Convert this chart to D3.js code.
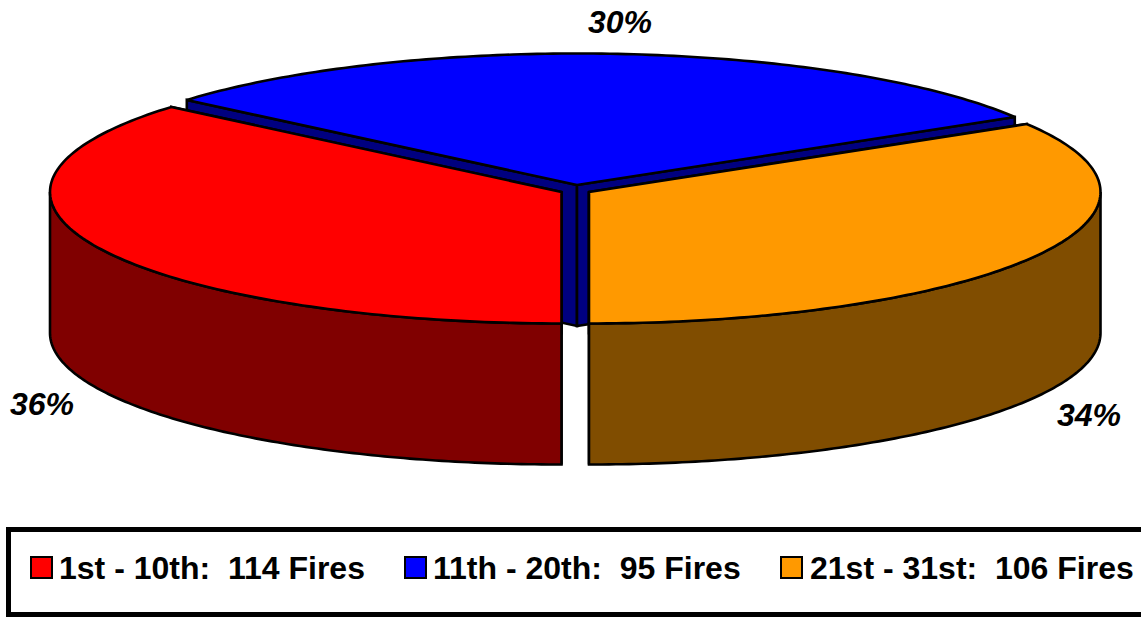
<!DOCTYPE html>
<html>
<head>
<meta charset="utf-8">
<script src="https://cdn.jsdelivr.net/npm/d3@7"></script>
<style>html,body{margin:0;padding:0;background:#fff;overflow:hidden}svg{display:block}</style>
</head>
<body>
<svg id="c" width="1141" height="621"></svg>
<script>
const categories = ["1st - 10th", "11th - 20th", "21st - 31st"];
const fires = [114, 95, 106];
const topColors = ["#FF0000", "#0000FF", "#FF9900"];
const sideColors = ["#800000", "#000080", "#804D00"];

const centers = [[561.5, 192], [577, 185], [589, 192]];
const rx = 511.5, ry = 131.5, depth = 141;
const labelPos = [[42, 415], [620, 33], [1089, 426]];
const swatchX = [31, 405, 781];
const textX = [59, 433, 810];

const svg = d3.select("#c");
const total = d3.sum(fires);
const pie = d3.pie().sort(null).startAngle(Math.PI).endAngle(3 * Math.PI);
const arcs = pie(fires);
const pct = d3.format(".0%");
const line = d3.line();

function pt(i, a, dz = 0) {
  const [cx, cy] = centers[i];
  return [cx + rx * Math.sin(a), cy - ry * Math.cos(a) + dz];
}
function arcPts(i, a0, a1, dz = 0) {
  const n = 120;
  return d3.range(n + 1).map(k => pt(i, a0 + (a1 - a0) * k / n, dz));
}
function poly(g, pts, fill) {
  g.append("path").attr("d", line(pts) + "Z").attr("fill", fill)
    .attr("stroke", "#000").attr("stroke-width", 2.6)
    .attr("stroke-linejoin", "miter").attr("stroke-miterlimit", 2.5);
}
const apex = (i, dz = 0) => [centers[i][0], centers[i][1] + dz];

const order = [1, 0, 2];
order.forEach(i => {
  const g = svg.append("g");
  const a0 = arcs[i].startAngle, a1 = arcs[i].endAngle;
  // cut faces
  [a0, a1].forEach(a => {
    poly(g, [apex(i), pt(i, a), pt(i, a, depth), apex(i, depth)], sideColors[i]);
  });
  // outer wall: only the parts of the rim facing the viewer (cos(angle) < 0)
  [[Math.PI / 2, 3 * Math.PI / 2], [5 * Math.PI / 2, 7 * Math.PI / 2]].forEach(([w0, w1]) => {
    const lo = Math.max(a0, w0), hi = Math.min(a1, w1);
    if (hi > lo) {
      poly(g, arcPts(i, lo, hi).concat(arcPts(i, hi, lo, depth)), sideColors[i]);
    }
  });
  // top face
  poly(g, [apex(i)].concat(arcPts(i, a0, a1)), topColors[i]);
});

// percentage labels
arcs.forEach((d, i) => {
  svg.append("text").attr("x", labelPos[i][0]).attr("y", labelPos[i][1])
    .attr("text-anchor", "middle")
    .attr("font-family", "Liberation Sans, Arial, sans-serif")
    .attr("font-weight", "bold").attr("font-style", "italic")
    .attr("font-size", 32).attr("fill", "#000")
    .text(pct(d.value / total));
});

// legend
svg.append("rect").attr("x", 8.5).attr("y", 529.5).attr("width", 1150).attr("height", 85)
  .attr("fill", "#fff").attr("stroke", "#000").attr("stroke-width", 5);
categories.forEach((c, i) => {
  svg.append("rect").attr("x", swatchX[i]).attr("y", 557).attr("width", 21).attr("height", 21)
    .attr("fill", topColors[i]).attr("stroke", "#000").attr("stroke-width", 2);
  svg.append("text").attr("x", textX[i]).attr("y", 579)
    .attr("font-family", "Liberation Sans, Arial, sans-serif")
    .attr("font-weight", "bold").attr("font-size", 32).attr("fill", "#000")
    .attr("xml:space", "preserve").style("white-space", "pre")
    .text(`${c}:  ${fires[i]} Fires`);
});
</script>
</body>
</html>
